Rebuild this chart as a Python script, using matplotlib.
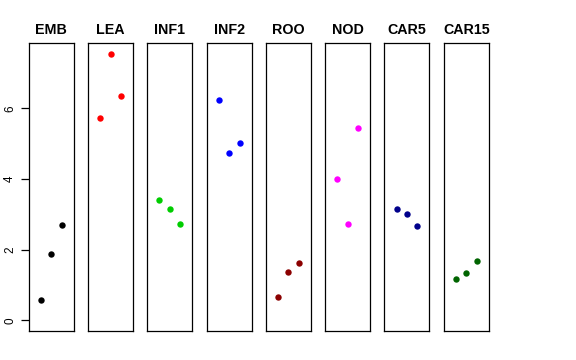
import matplotlib
matplotlib.use("Agg")
import matplotlib.pyplot as plt

plt.rcParams['font.family'] = ['Liberation Sans', 'DejaVu Sans']

tissues = ["EMB", "LEA", "INF1", "INF2", "ROO", "NOD", "CAR5", "CAR15"]
values = {
    "EMB":   [0.58, 1.88, 2.71],
    "LEA":   [5.74, 7.55, 6.34],
    "INF1":  [3.41, 3.15, 2.72],
    "INF2":  [6.25, 4.74, 5.01],
    "ROO":   [0.65, 1.36, 1.61],
    "NOD":   [4.01, 2.73, 5.44],
    "CAR5":  [3.16, 3.00, 2.67],
    "CAR15": [1.18, 1.33, 1.68],
}
colors = ["black", "#FF0000", "#00CD00", "#0000FF", "#8B0000", "#FF00FF", "#00008B", "#006400"]
xpos = [1, 2, 3]
yticks = [0, 2, 4, 6]

W, H = 576, 360
fig = plt.figure(figsize=(W / 100, H / 100), dpi=100)

ymax = max(max(v) for v in values.values())
ylo, yhi = 0 - 0.04 * ymax, ymax + 0.04 * ymax

left0 = 28.7
pitch = 59.3
pw = 45.0
top, bottom = 43.0, 331.0

for i, (t, c) in enumerate(zip(tissues, colors)):
    ax = fig.add_axes([(left0 + i * pitch) / W, (H - bottom) / H, pw / W, (bottom - top) / H])
    ax.plot(xpos, values[t], 'o', color=c, markersize=4.6, markeredgewidth=0)
    ax.set_xlim(-0.16, 4.16)
    ax.set_ylim(ylo, yhi)
    ax.set_xticks([])
    for s in ax.spines.values():
        s.set_linewidth(0.9)
        s.set_color('black')
    ax.set_title(t, fontsize=10.3, fontweight='bold', pad=6.3)
    if i == 0:
        ax.set_yticks(yticks)
        ax.set_yticklabels([str(v) for v in yticks], rotation=90, va='center', fontsize=8.4)
        ax.tick_params(axis='y', length=5.5, width=0.9, pad=3.5)
    else:
        ax.set_yticks([])

fig.savefig("out.png", dpi=100)
